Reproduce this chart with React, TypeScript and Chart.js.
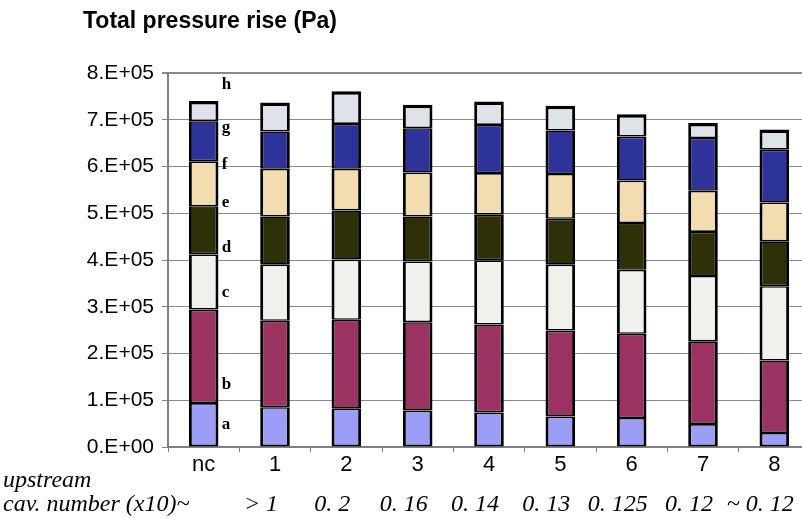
import React, { useEffect, useRef } from "react";
import { Chart, registerables } from "chart.js";

Chart.register(...registerables);

const categories = ["nc", "1", "2", "3", "4", "5", "6", "7", "8"];
const cavNumbers = ["> 1", "0. 2", "0. 16", "0. 14", "0. 13", "0. 125", "0. 12", "~ 0. 12"];
const yTicks = [0, 1e5, 2e5, 3e5, 4e5, 5e5, 6e5, 7e5, 8e5];

// stacked segments (Pa), bottom to top
const segA = [0.94e5, 0.85e5, 0.82e5, 0.78e5, 0.74e5, 0.65e5, 0.62e5, 0.49e5, 0.30e5];
const segB = [2.00e5, 1.85e5, 1.90e5, 1.89e5, 1.88e5, 1.84e5, 1.80e5, 1.77e5, 1.55e5];
const segC = [1.18e5, 1.20e5, 1.29e5, 1.30e5, 1.37e5, 1.41e5, 1.37e5, 1.40e5, 1.59e5];
const segD = [1.03e5, 1.03e5, 1.05e5, 0.96e5, 0.98e5, 0.98e5, 1.00e5, 0.94e5, 0.96e5];
const segE = [0.96e5, 1.02e5, 0.89e5, 0.94e5, 0.89e5, 0.96e5, 0.91e5, 0.88e5, 0.83e5];
const segF = [0.86e5, 0.80e5, 0.96e5, 0.95e5, 1.03e5, 0.93e5, 0.94e5, 1.13e5, 1.13e5];
const segG = [0.43e5, 0.62e5, 0.70e5, 0.50e5, 0.50e5, 0.53e5, 0.48e5, 0.32e5, 0.43e5];

const segmentLetters = ["a", "b", "c", "d", "e", "f", "g", "h"];
const letterValues = [0.47e5, 1.34e5, 3.3e5, 4.26e5, 5.22e5, 6.04e5, 6.83e5, 7.75e5];

const segColors = ["#9b9df7", "#9a3262", "#f0f0ed", "#2f2f08", "#f2dcb0", "#2e339a", "#dfe2e8"];

export default function App() {
  const ref = useRef<HTMLCanvasElement | null>(null);

  useEffect(() => {
    const canvas = ref.current;
    if (!canvas) return;

    const textPlugin = {
      id: "extraText",
      afterDraw(chart: any) {
        const ctx = chart.ctx;
        const x = chart.scales.x;
        const y = chart.scales.y;
        ctx.save();
        // title
        ctx.fillStyle = "#000";
        ctx.font = "bold 23px 'Liberation Sans', Arial, sans-serif";
        ctx.textAlign = "left";
        ctx.textBaseline = "middle";
        ctx.fillText("Total pressure rise (Pa)", 83, 22);
        // segment letters next to first bar
        ctx.font = "bold 17px 'Liberation Serif', 'Times New Roman', serif";
        const lx = x.getPixelForValue(0) + 18;
        segmentLetters.forEach((l, i) => {
          ctx.fillText(l, lx, y.getPixelForValue(letterValues[i]));
        });
        // bottom texts
        ctx.textBaseline = "alphabetic";
        ctx.font = "italic 24px 'Liberation Serif', 'Times New Roman', serif";
        ctx.textAlign = "left";
        ctx.fillText("upstream", 3, 487);
        ctx.fillText("cav. number (x10)~", 3, 511);
        ctx.textAlign = "center";
        cavNumbers.forEach((t, i) => {
          ctx.fillText(t, x.getPixelForValue(i + 1) - 14, 511);
        });
        ctx.restore();
      },
    };

    const mk = (label: string, data: number[], i: number) => ({
      label,
      data,
      backgroundColor: segColors[i],
      borderColor: "#000",
      borderWidth: { left: 3, right: 3, top: i === 6 ? 3.5 : 1.6, bottom: i === 0 ? 2 : 1.6 },
      borderSkipped: false,
      inflateAmount: 0,
      barPercentage: 0.415,
      categoryPercentage: 1,
    });

    const chart = new Chart(canvas, {
      type: "bar",
      data: {
        labels: categories,
        datasets: [
          mk("a", segA, 0),
          mk("b", segB, 1),
          mk("c", segC, 2),
          mk("d", segD, 3),
          mk("e", segE, 4),
          mk("f", segF, 5),
          mk("g", segG, 6),
        ],
      },
      options: {
        responsive: false,
        animation: false,
        devicePixelRatio: 1,
        events: [],
        layout: { padding: { top: 73, left: 0, right: 2, bottom: 0 } },
        plugins: { legend: { display: false }, tooltip: { enabled: false }, title: { display: false } },
        scales: {
          x: {
            stacked: true,
            offset: true,
            grid: { offset: true, drawOnChartArea: false, drawTicks: true, tickLength: 5, color: "#808080" },
            border: { color: "#808080", width: 2 },
            ticks: {
              color: "#000",
              font: { family: "'Liberation Sans', Arial, sans-serif", size: 22 },
              padding: 0,
              maxRotation: 0,
            },
            afterFit: (s: any) => {
              s.height = 71;
            },
          },
          y: {
            stacked: true,
            min: 0,
            max: 8e5,
            afterBuildTicks: (s: any) => {
              s.ticks = yTicks.map((v) => ({ value: v }));
            },
            grid: { color: "#8a8a8a", lineWidth: (c: any) => (c.tick && c.tick.value === 8e5 ? 2 : 1), tickLength: 6 },
            border: { color: "#808080", width: 2 },
            ticks: {
              color: "#000",
              padding: 8,
              font: { family: "'Liberation Sans', Arial, sans-serif", size: 21 },
              callback: (v: any) => (v === 0 ? "0.E+00" : `${Math.round(Number(v) / 1e5)}.E+05`),
            },
            afterFit: (s: any) => {
              s.width = 168;
            },
          },
        },
      },
      plugins: [textPlugin],
    });

    return () => chart.destroy();
  }, []);

  return (
    <div style={{ position: "fixed", left: 0, top: 0, width: 802, height: 518, overflow: "hidden", background: "#fff" }}>
      <canvas ref={ref} width={812} height={518} style={{ display: "block" }} />
    </div>
  );
}
